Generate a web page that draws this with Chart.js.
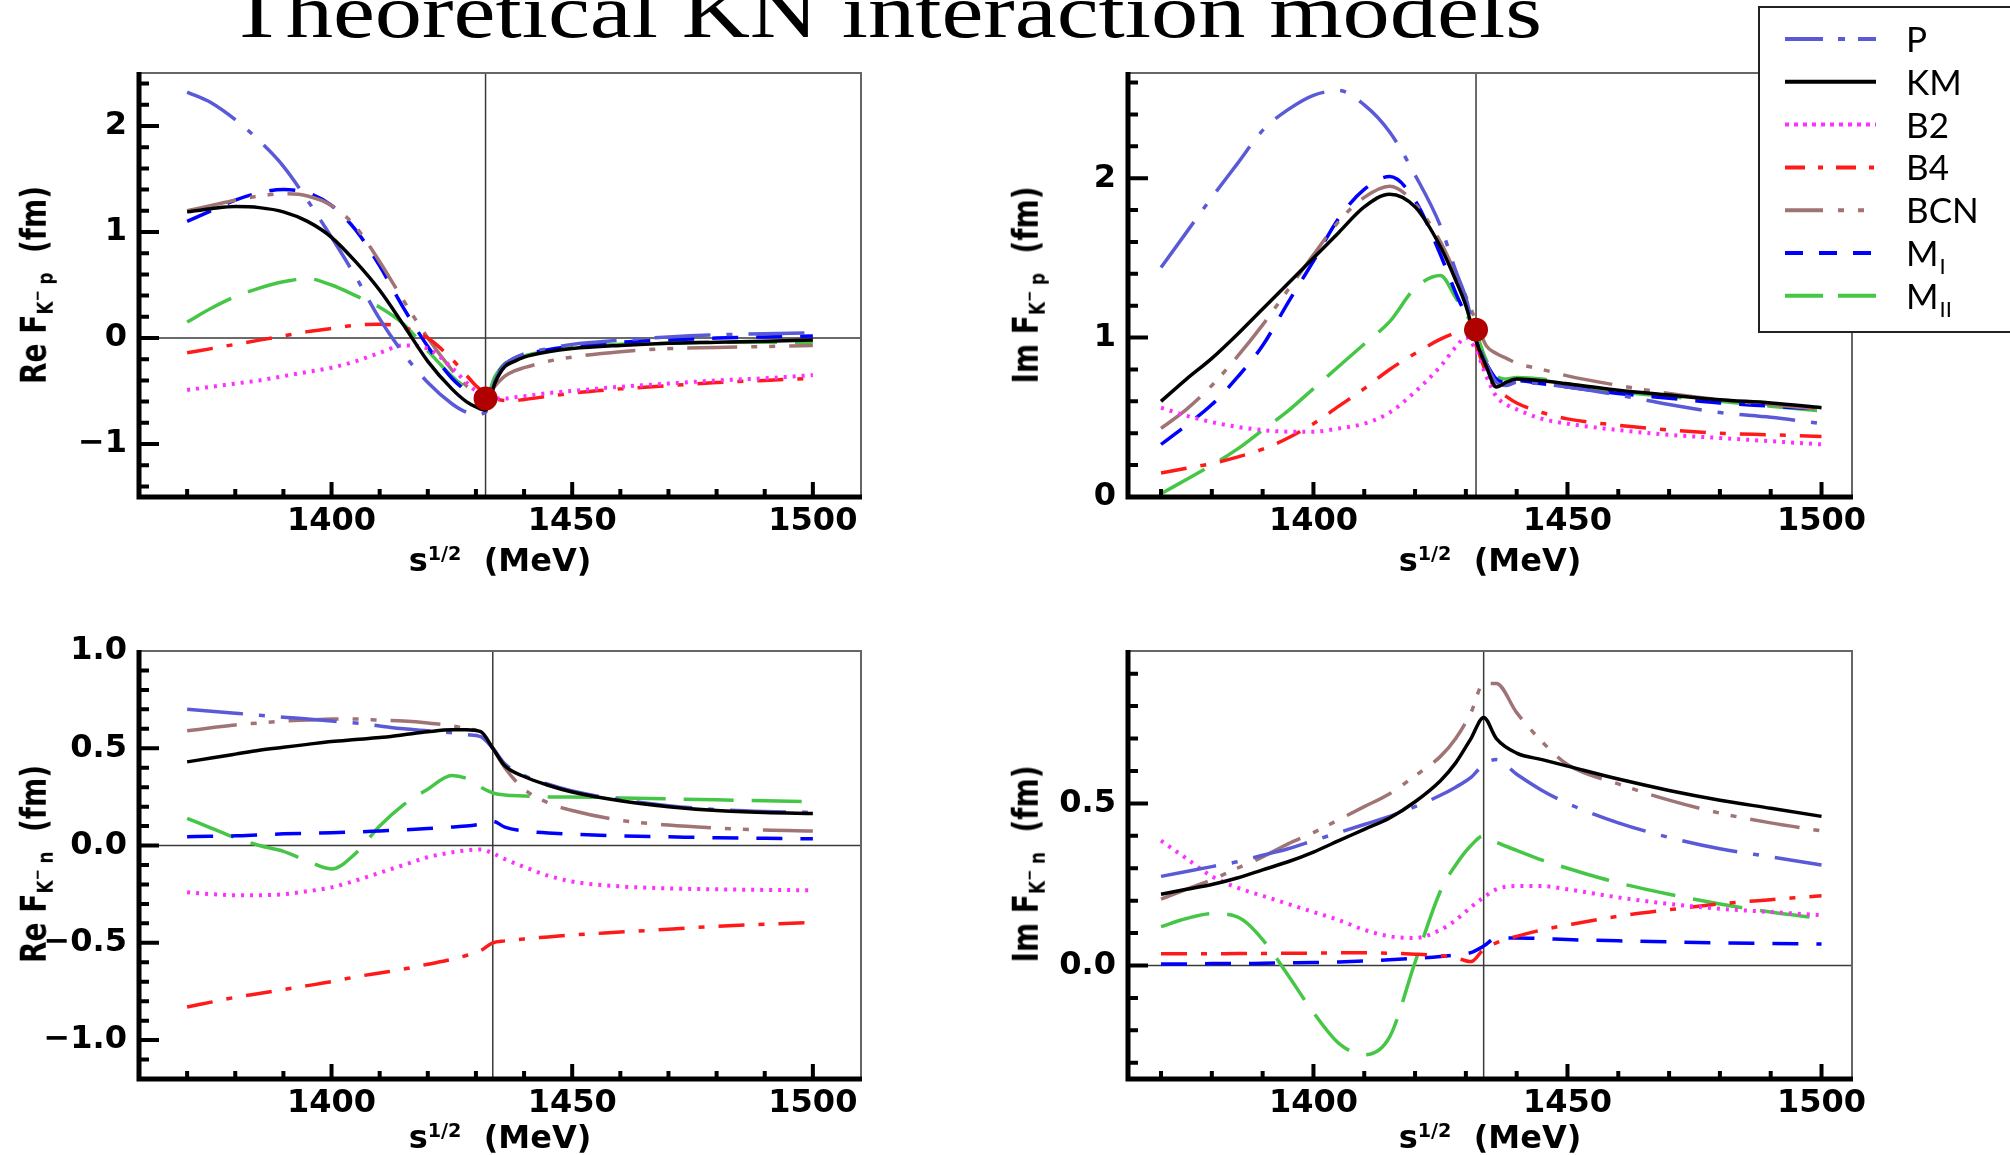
<!DOCTYPE html>
<html>
<head>
<meta charset="utf-8">
<script src="https://cdn.jsdelivr.net/npm/chart.js@4.4.1/dist/chart.umd.min.js"></script>
<style>
  html, body { margin: 0; padding: 0; background: #fff; }
  #page { position: relative; width: 2010px; height: 1155px; overflow: hidden; background: #fff; }
  #page canvas { position: absolute; }
  #title { position: absolute; left: 228px; top: -27px; font-family: "Liberation Serif", serif; font-size: 76px; line-height: 76px; white-space: nowrap; transform-origin: 0 0; color: #000; }
  .xt, .yt { position: absolute; font-family: "DejaVu Sans", sans-serif; font-weight: bold; white-space: nowrap; color: #000; line-height: 1; }
  .xt { font-size: 32px; transform: translate(-50%, -50%); }
  .yt { font-size: 28px; transform: translate(-50%, -50%) rotate(-90deg) scaleY(1.25); }
  .sup { font-size: 60%; position: relative; top: -0.55em; }
  .sub { font-size: 60%; position: relative; top: 0.35em; }
  .sub .sup { font-size: 80%; top: -0.6em; }
</style>
</head>
<body>
<div id="page">
  <div id="title">Theoretical K&#772;N interaction models</div>

  <canvas id="cTL" width="900" height="575" style="left:0px; top:0px;"></canvas>
  <canvas id="cTR" width="1020" height="575" style="left:990px; top:0px;"></canvas>
  <canvas id="cBL" width="900" height="565" style="left:0px; top:590px;"></canvas>
  <canvas id="cBR" width="1020" height="565" style="left:990px; top:590px;"></canvas>

  <div class="yt" style="left:34px; top:285px;">Re F<span class="sub">K<span class="sup">&minus;</span> p</span>&nbsp;&nbsp;(fm)</div>
  <div class="yt" style="left:1026px; top:285px;">Im F<span class="sub">K<span class="sup">&minus;</span> p</span>&nbsp;&nbsp;(fm)</div>
  <div class="yt" style="left:34px; top:864px;">Re F<span class="sub">K<span class="sup">&minus;</span> n</span>&nbsp;&nbsp;(fm)</div>
  <div class="yt" style="left:1026px; top:864px;">Im F<span class="sub">K<span class="sup">&minus;</span> n</span>&nbsp;&nbsp;(fm)</div>

  <div class="xt" style="left:500px; top:560px;">s<span class="sup">1/2</span>&nbsp;&nbsp;(MeV)</div>
  <div class="xt" style="left:1490px; top:560px;">s<span class="sup">1/2</span>&nbsp;&nbsp;(MeV)</div>
  <div class="xt" style="left:500px; top:1137px;">s<span class="sup">1/2</span>&nbsp;&nbsp;(MeV)</div>
  <div class="xt" style="left:1490px; top:1137px;">s<span class="sup">1/2</span>&nbsp;&nbsp;(MeV)</div>
</div>

<script>
const xTop = [1370, 1375, 1380, 1385, 1390, 1395, 1400, 1405, 1410, 1415, 1420, 1425, 1428, 1430, 1432, 1434, 1436, 1438, 1440, 1445, 1450, 1460, 1470, 1480, 1490, 1500];
const xBottom = [1370, 1375, 1380, 1385, 1390, 1395, 1400, 1405, 1410, 1415, 1420, 1425, 1428, 1431, 1433.5, 1436, 1440, 1445, 1450, 1460, 1470, 1480, 1490, 1500];
const thresholdTop = 1432;
const thresholdBottom = 1433.5;

const seriesNames = ['P', 'KM', 'B2', 'B4', 'BCN', 'M_I', 'M_II'];

// Re F(K-p)
const reKpP   = [2.32, 2.22, 2.06, 1.86, 1.62, 1.30, 0.95, 0.58, 0.18, -0.15, -0.42, -0.62, -0.70, -0.72, -0.70, -0.40, -0.25, -0.19, -0.15, -0.10, -0.06, -0.02, 0.01, 0.03, 0.04, 0.05];
const reKpKM  = [1.19, 1.22, 1.24, 1.23, 1.19, 1.10, 0.95, 0.72, 0.45, 0.12, -0.22, -0.48, -0.60, -0.65, -0.68, -0.42, -0.27, -0.22, -0.18, -0.13, -0.10, -0.07, -0.05, -0.04, -0.03, -0.02];
const reKpB2  = [-0.49, -0.46, -0.43, -0.40, -0.36, -0.32, -0.28, -0.22, -0.14, -0.07, -0.10, -0.28, -0.42, -0.50, -0.55, -0.57, -0.57, -0.56, -0.55, -0.52, -0.50, -0.46, -0.43, -0.40, -0.38, -0.35];
const reKpB4  = [-0.14, -0.10, -0.06, -0.02, 0.02, 0.06, 0.09, 0.12, 0.13, 0.10, 0.00, -0.20, -0.35, -0.45, -0.52, -0.57, -0.59, -0.59, -0.58, -0.55, -0.52, -0.48, -0.45, -0.42, -0.40, -0.38];
const reKpBCN = [1.20, 1.25, 1.30, 1.34, 1.36, 1.34, 1.25, 1.05, 0.72, 0.35, 0.00, -0.30, -0.45, -0.52, -0.56, -0.45, -0.36, -0.31, -0.28, -0.22, -0.18, -0.13, -0.10, -0.09, -0.08, -0.07];
const reKpMI  = [1.10, 1.20, 1.30, 1.37, 1.40, 1.37, 1.25, 1.02, 0.68, 0.28, -0.08, -0.38, -0.50, -0.56, -0.60, -0.38, -0.25, -0.19, -0.16, -0.11, -0.08, -0.04, -0.02, 0.00, 0.01, 0.02];
const reKpMII = [0.15, 0.28, 0.39, 0.47, 0.53, 0.56, 0.50, 0.40, 0.29, 0.13, -0.12, -0.36, -0.47, -0.52, -0.56, -0.36, -0.24, -0.20, -0.17, -0.12, -0.09, -0.06, -0.05, -0.04, -0.04, -0.04];

// Im F(K-p)
const imKpP   = [1.44, 1.66, 1.88, 2.09, 2.30, 2.43, 2.52, 2.55, 2.46, 2.29, 2.02, 1.70, 1.42, 1.25, 1.00, 0.84, 0.72, 0.70, 0.72, 0.71, 0.69, 0.64, 0.58, 0.53, 0.50, 0.46];
const imKpKM  = [0.60, 0.74, 0.87, 1.02, 1.18, 1.34, 1.50, 1.66, 1.82, 1.90, 1.82, 1.57, 1.36, 1.20, 0.98, 0.82, 0.69, 0.72, 0.74, 0.73, 0.71, 0.67, 0.64, 0.61, 0.59, 0.56];
const imKpB2  = [0.56, 0.51, 0.47, 0.44, 0.42, 0.41, 0.41, 0.43, 0.46, 0.53, 0.66, 0.82, 0.94, 1.00, 0.92, 0.76, 0.63, 0.58, 0.55, 0.49, 0.46, 0.42, 0.39, 0.37, 0.35, 0.33];
const imKpB4  = [0.15, 0.18, 0.21, 0.25, 0.30, 0.37, 0.46, 0.57, 0.68, 0.80, 0.90, 0.99, 1.03, 1.05, 0.95, 0.78, 0.68, 0.63, 0.59, 0.53, 0.49, 0.45, 0.42, 0.40, 0.39, 0.38];
const imKpBCN = [0.43, 0.55, 0.70, 0.88, 1.08, 1.30, 1.52, 1.73, 1.88, 1.95, 1.84, 1.60, 1.40, 1.26, 1.10, 0.95, 0.90, 0.87, 0.84, 0.80, 0.76, 0.70, 0.65, 0.61, 0.58, 0.55];
const imKpMI  = [0.33, 0.45, 0.58, 0.75, 0.95, 1.22, 1.48, 1.75, 1.93, 2.01, 1.86, 1.52, 1.28, 1.14, 0.98, 0.84, 0.74, 0.72, 0.73, 0.71, 0.69, 0.65, 0.62, 0.59, 0.57, 0.55];
const imKpMII = [0.02, 0.11, 0.20, 0.30, 0.42, 0.54, 0.68, 0.82, 0.96, 1.10, 1.31, 1.39, 1.25, 1.15, 1.03, 0.86, 0.76, 0.74, 0.75, 0.74, 0.71, 0.66, 0.63, 0.60, 0.57, 0.54];

// Re F(K-n)
const reKnP   = [0.70, 0.69, 0.68, 0.67, 0.66, 0.65, 0.64, 0.63, 0.615, 0.60, 0.59, 0.58, 0.57, 0.56, 0.50, 0.42, 0.36, 0.315, 0.28, 0.235, 0.205, 0.185, 0.175, 0.17];
const reKnKM  = [0.43, 0.45, 0.47, 0.49, 0.505, 0.52, 0.535, 0.545, 0.555, 0.57, 0.585, 0.595, 0.595, 0.585, 0.50, 0.41, 0.355, 0.31, 0.275, 0.23, 0.20, 0.18, 0.17, 0.165];
const reKnB2  = [-0.24, -0.25, -0.255, -0.255, -0.25, -0.235, -0.215, -0.18, -0.14, -0.10, -0.06, -0.035, -0.025, -0.02, -0.04, -0.07, -0.11, -0.155, -0.185, -0.21, -0.22, -0.225, -0.228, -0.23];
const reKnB4  = [-0.83, -0.805, -0.78, -0.76, -0.74, -0.72, -0.70, -0.675, -0.655, -0.635, -0.61, -0.585, -0.565, -0.54, -0.50, -0.49, -0.48, -0.47, -0.46, -0.445, -0.43, -0.415, -0.405, -0.395];
const reKnBCN = [0.59, 0.605, 0.62, 0.63, 0.64, 0.645, 0.65, 0.65, 0.645, 0.64, 0.63, 0.615, 0.60, 0.58, 0.50, 0.40, 0.29, 0.22, 0.18, 0.13, 0.105, 0.09, 0.08, 0.075];
const reKnMI  = [0.045, 0.048, 0.05, 0.055, 0.06, 0.063, 0.066, 0.07, 0.075, 0.08, 0.087, 0.095, 0.10, 0.11, 0.125, 0.095, 0.075, 0.065, 0.058, 0.05, 0.045, 0.04, 0.037, 0.035];
const reKnMII = [0.14, 0.09, 0.04, 0.00, -0.03, -0.08, -0.12, -0.04, 0.10, 0.21, 0.29, 0.36, 0.345, 0.30, 0.27, 0.26, 0.255, 0.25, 0.25, 0.245, 0.24, 0.235, 0.23, 0.225];

// Im F(K-n)
const imKnP   = [0.275, 0.29, 0.305, 0.32, 0.34, 0.36, 0.385, 0.41, 0.435, 0.46, 0.49, 0.525, 0.55, 0.58, 0.62, 0.635, 0.59, 0.54, 0.50, 0.44, 0.395, 0.36, 0.335, 0.31];
const imKnKM  = [0.22, 0.235, 0.25, 0.27, 0.295, 0.32, 0.35, 0.385, 0.42, 0.455, 0.505, 0.57, 0.625, 0.70, 0.765, 0.70, 0.655, 0.635, 0.615, 0.575, 0.54, 0.51, 0.485, 0.46];
const imKnB2  = [0.385, 0.33, 0.275, 0.24, 0.215, 0.19, 0.165, 0.14, 0.11, 0.09, 0.085, 0.11, 0.14, 0.18, 0.21, 0.235, 0.245, 0.245, 0.235, 0.21, 0.19, 0.175, 0.165, 0.155];
const imKnB4  = [0.036, 0.036, 0.036, 0.037, 0.037, 0.038, 0.038, 0.039, 0.039, 0.038, 0.035, 0.03, 0.024, 0.012, 0.05, 0.07, 0.09, 0.11, 0.125, 0.152, 0.172, 0.19, 0.203, 0.215];
const imKnBCN = [0.205, 0.235, 0.265, 0.30, 0.335, 0.375, 0.41, 0.45, 0.49, 0.53, 0.585, 0.645, 0.70, 0.78, 0.87, 0.87, 0.78, 0.69, 0.62, 0.56, 0.51, 0.47, 0.44, 0.415];
const imKnMI  = [0.005, 0.005, 0.006, 0.006, 0.007, 0.008, 0.009, 0.011, 0.014, 0.018, 0.022, 0.028, 0.033, 0.04, 0.06, 0.085, 0.085, 0.083, 0.08, 0.076, 0.073, 0.07, 0.068, 0.066];
const imKnMII = [0.12, 0.145, 0.16, 0.15, 0.08, -0.03, -0.145, -0.24, -0.275, -0.22, 0.01, 0.23, 0.31, 0.37, 0.40, 0.38, 0.355, 0.325, 0.30, 0.255, 0.22, 0.19, 0.165, 0.145];

// threshold points marked in the K-p panels
const markerX = [1432];
const markerReKpY = [-0.57];
const markerImKpY = [1.05];

// axis ticks
const xMajor = [1400, 1450, 1500];
const xTickLabels = ['1400', '1450', '1500'];
const yMajorReKp = [-1, 0, 1, 2];
const yLabelsReKp = ['\u22121', '0', '1', '2'];
const yMajorImKp = [0, 1, 2];
const yLabelsImKp = ['0', '1', '2'];
const yMajorReKn = [-1, -0.5, 0, 0.5, 1];
const yLabelsReKn = ['\u22121.0', '\u22120.5', '0.0', '0.5', '1.0'];
const yMajorImKn = [0, 0.5];
const yLabelsImKn = ['0.0', '0.5'];

const seriesStyles = [
  { color: '#5a5ad8', width: 3.5, dash: [56, 16, 6, 16], legendDash: [38, 15, 7, 13] },
  { color: '#000000', width: 3.5, dash: [], legendDash: [] },
  { color: '#ff30ff', width: 4, dash: [3, 6], legendDash: [4, 5] },
  { color: '#ff1a1a', width: 3.5, dash: [26, 14, 6, 14], legendDash: [20, 13, 5, 13] },
  { color: '#a07474', width: 3.5, dash: [50, 14, 6, 12, 6, 14], legendDash: [38, 15, 6, 14, 6, 15] },
  { color: '#0000ff', width: 3.5, dash: [26, 18], legendDash: [18, 16] },
  { color: '#46c646', width: 3.5, dash: [50, 18], legendDash: [38, 15] }
];

const tickFont = { family: 'DejaVu Sans', size: 32, weight: 'bold' };

function steps(from, to, step) {
  const out = [];
  for (let v = from; v <= to + 1e-9; v += step) out.push(Math.round(v * 1000) / 1000);
  return out;
}

function labelFor(value, majors, labels) {
  const i = majors.findIndex(m => Math.abs(m - value) < 1e-6);
  return i >= 0 ? labels[i] : '';
}

// zero line, threshold line, frame and inward tick marks
const framePlugin = {
  id: 'frame',
  beforeDatasetsDraw(chart, args, opts) {
    const { ctx, chartArea: a, scales: { x, y } } = chart;
    ctx.save();
    ctx.strokeStyle = '#3a3a3a';
    ctx.lineWidth = 1.5;
    ctx.beginPath();
    if (y.min < 0 && y.max > 0) {
      const py = y.getPixelForValue(0);
      ctx.moveTo(a.left, py);
      ctx.lineTo(a.right, py);
    }
    const px = x.getPixelForValue(opts.threshold);
    ctx.moveTo(px, a.top);
    ctx.lineTo(px, a.bottom);
    ctx.stroke();
    ctx.restore();
  },
  afterDraw(chart) {
    const { ctx, chartArea: a, scales: { x, y } } = chart;
    ctx.save();
    ctx.strokeStyle = '#666';
    ctx.lineWidth = 2;
    ctx.beginPath();
    ctx.moveTo(a.left, a.top);
    ctx.lineTo(a.right, a.top);
    ctx.lineTo(a.right, a.bottom);
    ctx.stroke();

    ctx.strokeStyle = '#000';
    ctx.lineWidth = 4;
    ctx.beginPath();
    y.ticks.forEach(t => {
      if (Math.abs(t.value - y.min) < 1e-6 || Math.abs(t.value - y.max) < 1e-6) return;
      const py = y.getPixelForValue(t.value);
      ctx.moveTo(a.left, py);
      ctx.lineTo(a.left + (t.label !== '' ? 20 : 10), py);
    });
    x.ticks.forEach(t => {
      const px = x.getPixelForValue(t.value);
      ctx.moveTo(px, a.bottom);
      ctx.lineTo(px, a.bottom - (t.label !== '' ? 15 : 8));
    });
    ctx.stroke();

    ctx.lineWidth = 5;
    ctx.beginPath();
    ctx.moveTo(a.left, a.top - 1);
    ctx.lineTo(a.left, a.bottom);
    ctx.lineTo(a.right + 1, a.bottom);
    ctx.stroke();
    ctx.restore();
  }
};

// boxed legend at the upper right of the page
const legendPlugin = {
  id: 'modelLegend',
  afterDraw(chart) {
    const ctx = chart.ctx;
    const left = 769, top = 7, bottom = 332;
    ctx.save();
    ctx.fillStyle = '#fff';
    ctx.fillRect(left, top, chart.width - left + 10, bottom - top);
    ctx.strokeStyle = '#222';
    ctx.lineWidth = 2;
    ctx.strokeRect(left, top, chart.width - left + 10, bottom - top);
    chart.data.datasets.forEach((ds, i) => {
      if (ds.isMarker) return;
      const st = seriesStyles[i];
      const yc = 39 + i * 42.8;
      ctx.beginPath();
      ctx.setLineDash(st.legendDash);
      ctx.strokeStyle = st.color;
      ctx.lineWidth = 4;
      ctx.moveTo(795, yc);
      ctx.lineTo(886, yc);
      ctx.stroke();
      ctx.setLineDash([]);
      const [main, sub] = ds.label.split('_');
      ctx.fillStyle = '#000';
      ctx.textBaseline = 'alphabetic';
      ctx.font = '35px Lato';
      ctx.fillText(main, 916, yc + 13);
      if (sub) {
        const w = ctx.measureText(main).width;
        ctx.font = '22px Lato';
        ctx.fillText(sub, 916 + w + 1, yc + 21);
      }
    });
    ctx.restore();
  }
};

function buildDatasets(xs, series, marker) {
  const ds = series.map((ys, i) => ({
    label: seriesNames[i],
    data: xs.map((x, j) => ({ x: x, y: ys[j] })),
    borderColor: seriesStyles[i].color,
    borderWidth: seriesStyles[i].width,
    borderDash: seriesStyles[i].dash,
    pointRadius: 0,
    fill: false,
    cubicInterpolationMode: 'monotone',
    order: i === 1 ? 0 : 1
  }));
  if (marker) {
    ds.push({
      label: 'threshold',
      isMarker: true,
      data: [{ x: marker[0], y: marker[1] }],
      showLine: false,
      pointRadius: 12,
      pointBackgroundColor: '#b00000',
      pointBorderWidth: 0,
      order: -1
    });
  }
  return ds;
}

function renderPanel(p) {
  new Chart(document.getElementById(p.id), {
    type: 'line',
    data: { datasets: buildDatasets(p.xs, p.series, p.marker) },
    options: {
      responsive: false,
      animation: false,
      layout: { padding: { top: p.padTop, right: p.padRight, left: 0, bottom: 0 } },
      plugins: {
        legend: { display: false },
        tooltip: { enabled: false },
        frame: { threshold: p.threshold }
      },
      scales: {
        x: {
          type: 'linear',
          min: p.xMin,
          max: p.xMax,
          grid: { display: false, drawTicks: false },
          border: { display: false },
          ticks: {
            autoSkip: false, maxRotation: 0, padding: 5, color: '#000', font: tickFont,
            callback: v => labelFor(v, xMajor, xTickLabels)
          },
          afterBuildTicks: s => { s.ticks = steps(1370, 1500, 10).map(v => ({ value: v })); },
          afterFit: s => { s.height = p.xAxisHeight; }
        },
        y: {
          type: 'linear',
          min: p.yMin,
          max: p.yMax,
          grid: { display: false, drawTicks: false },
          border: { display: false },
          ticks: {
            autoSkip: false, padding: 12, color: '#000', font: tickFont,
            callback: v => labelFor(v, p.yMajor, p.yLabels)
          },
          afterBuildTicks: s => { s.ticks = p.yTicks.map(v => ({ value: v })); },
          afterFit: s => { s.width = p.yAxisWidth; }
        }
      }
    },
    plugins: p.legend ? [framePlugin, legendPlugin] : [framePlugin]
  });
}

renderPanel({
  id: 'cTL', xs: xTop, threshold: thresholdTop,
  series: [reKpP, reKpKM, reKpB2, reKpB4, reKpBCN, reKpMI, reKpMII],
  marker: [markerX[0], markerReKpY[0]],
  xMin: 1360, xMax: 1510, yMin: -1.5, yMax: 2.5,
  yTicks: steps(-1.4, 2.4, 0.2), yMajor: yMajorReKp, yLabels: yLabelsReKp,
  yAxisWidth: 139, xAxisHeight: 78, padTop: 73, padRight: 39
});
renderPanel({
  id: 'cTR', xs: xTop, threshold: thresholdTop, legend: true,
  series: [imKpP, imKpKM, imKpB2, imKpB4, imKpBCN, imKpMI, imKpMII],
  marker: [markerX[0], markerImKpY[0]],
  xMin: 1363.5, xMax: 1506, yMin: 0, yMax: 2.66,
  yTicks: steps(0, 2.6, 0.2), yMajor: yMajorImKp, yLabels: yLabelsImKp,
  yAxisWidth: 138, xAxisHeight: 78, padTop: 73, padRight: 158
});
renderPanel({
  id: 'cBL', xs: xBottom, threshold: thresholdBottom,
  series: [reKnP, reKnKM, reKnB2, reKnB4, reKnBCN, reKnMI, reKnMII],
  xMin: 1360, xMax: 1510, yMin: -1.2, yMax: 1.0,
  yTicks: steps(-1.1, 1.0, 0.1), yMajor: yMajorReKn, yLabels: yLabelsReKn,
  yAxisWidth: 139, xAxisHeight: 76, padTop: 61, padRight: 39
});
renderPanel({
  id: 'cBR', xs: xBottom, threshold: thresholdBottom,
  series: [imKnP, imKnKM, imKnB2, imKnB4, imKnBCN, imKnMI, imKnMII],
  xMin: 1363.5, xMax: 1506, yMin: -0.35, yMax: 0.97,
  yTicks: steps(-0.3, 0.9, 0.1), yMajor: yMajorImKn, yLabels: yLabelsImKn,
  yAxisWidth: 138, xAxisHeight: 76, padTop: 61, padRight: 158
});

// stretch the title to the width it spans in the figure
const titleEl = document.getElementById('title');
const mctx = document.createElement('canvas').getContext('2d');
mctx.font = '76px "Liberation Serif"';
titleEl.style.transform = 'scaleX(' + (1314 / mctx.measureText(titleEl.textContent).width) + ')';
</script>
</body>
</html>
